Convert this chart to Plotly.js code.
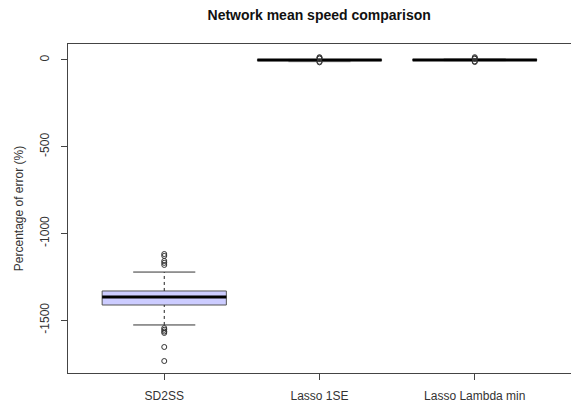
<!DOCTYPE html>
<html>
<head>
<meta charset="utf-8">
<script src="https://cdn.plot.ly/plotly-3.0.1.min.js"></script>
<style>html,body{margin:0;padding:0;background:#fff}#chart{width:571px;height:403px}</style>
</head>
<body>
<div id="chart"></div>
<script>
// Data
const categories = ['SD2SS', 'Lasso 1SE', 'Lasso Lambda min'];
const q1Values = [-1413, -4, -2];
const medianValues = [-1367, 0, 0];
const q3Values = [-1332, 2, 3];
const lowerWhiskers = [-1528, -10, -4];
const upperWhiskers = [-1223, 3, 6];
const outliersSD2SS = [-1119, -1130, -1159, -1170, -1182, -1546, -1556, -1566, -1574, -1655, -1736];
const outliersLasso1SE = [16, 12, 8, -10, -14];
const outliersLassoMin = [16, 11, 7, -8, -12];
const outlierSets = [outliersSD2SS, outliersLasso1SE, outliersLassoMin];
const fillColors = ['#ccccff', '#bebebe', '#8c8c8c'];

const positions = categories.map((c, i) => i + 1);
const boxWidth = 0.8;
const stapleHalf = 0.2;
const traces = [];

positions.forEach((p, i) => {
  traces.push({
    type: 'box', x: [p], q1: [q1Values[i]], median: [medianValues[i]], q3: [q3Values[i]],
    lowerfence: [q1Values[i]], upperfence: [q3Values[i]],
    width: boxWidth, fillcolor: fillColors[i], line: {color: '#555555', width: 1},
    whiskerwidth: 0, boxpoints: false, hoverinfo: 'skip', showlegend: false
  });
});
positions.forEach((p, i) => {
  traces.push({
    type: 'scatter', mode: 'lines',
    x: [p, p, null, p, p], y: [lowerWhiskers[i], q1Values[i], null, q3Values[i], upperWhiskers[i]],
    line: {color: '#222', width: 1, dash: '3px,3px'}, hoverinfo: 'skip', showlegend: false
  });
  traces.push({
    type: 'scatter', mode: 'lines',
    x: [p - stapleHalf, p + stapleHalf, null, p - stapleHalf, p + stapleHalf],
    y: [lowerWhiskers[i], lowerWhiskers[i], null, upperWhiskers[i], upperWhiskers[i]],
    line: {color: i === 0 ? '#333' : '#888', width: 1}, hoverinfo: 'skip', showlegend: false
  });
});
positions.forEach((p, i) => {
  traces.push({
    type: 'scatter', mode: 'lines',
    x: [p - boxWidth / 2, p + boxWidth / 2], y: [medianValues[i], medianValues[i]],
    line: {color: '#000', width: 3}, hoverinfo: 'skip', showlegend: false
  });
  traces.push({
    type: 'scatter', mode: 'markers',
    x: outlierSets[i].map(() => p), y: outlierSets[i],
    marker: {symbol: 'circle-open', size: 5, color: '#333', line: {width: 1}},
    hoverinfo: 'skip', showlegend: false
  });
});

const layout = {
  width: 571, height: 403,
  margin: {l: 68, r: 0, t: 44, b: 30},
  paper_bgcolor: '#fff', plot_bgcolor: '#fff',
  font: {family: 'Liberation Sans, Arial, sans-serif', size: 12, color: '#333'},
  title: {text: '<b>Network mean speed comparison</b>', x: 0.559, xanchor: 'center', y: 0.962, yanchor: 'middle',
          font: {size: 14, color: '#111', family: 'Liberation Sans, Arial, sans-serif'}},
  xaxis: {
    range: [0.38, 3.62], tickvals: positions, ticktext: categories,
    showline: true, mirror: true, linecolor: '#444', linewidth: 1,
    ticks: 'outside', ticklen: 6, tickcolor: '#444', showgrid: false, zeroline: false,
    ticklabelstandoff: 6,
    tickfont: {size: 12, color: '#333'}
  },
  yaxis: {
    range: [-1805, 92], tickvals: [0, -500, -1000, -1500], ticktext: ['0', '-500', '-1000', '-1500'],
    tickangle: -90,
    showline: true, mirror: true, linecolor: '#444', linewidth: 1,
    ticks: 'outside', ticklen: 6, tickcolor: '#444', showgrid: false, zeroline: false,
    ticklabelstandoff: 7,
    tickfont: {size: 12, color: '#333'},
    title: {text: 'Percentage of error (%)', font: {size: 12, color: '#333'}, standoff: 12}
  }
};

Plotly.newPlot('chart', traces, layout, {displayModeBar: false, staticPlot: true});
</script>
</body>
</html>
